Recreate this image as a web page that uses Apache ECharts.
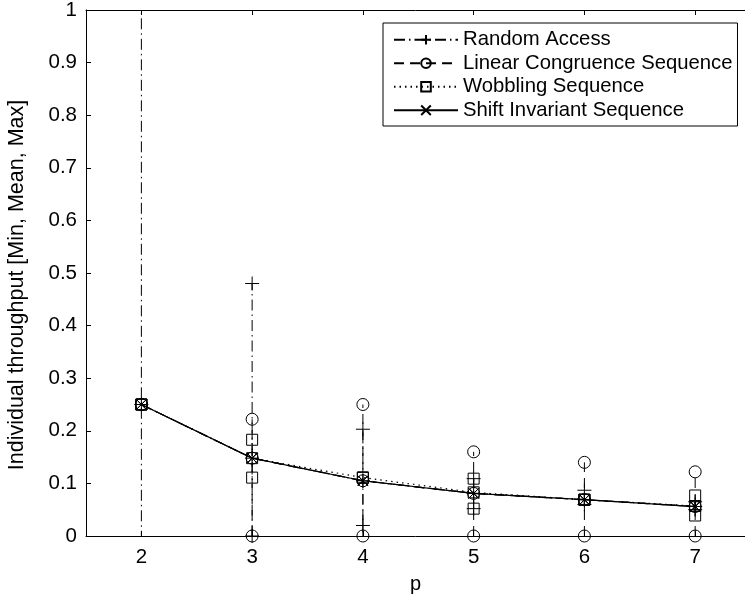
<!DOCTYPE html>
<html>
<head>
<meta charset="utf-8">
<script src="https://cdn.jsdelivr.net/npm/echarts@6/dist/echarts.min.js"></script>
<style>
  html, body { margin: 0; padding: 0; background: #fff; }
  #chart { width: 745px; height: 601px; }
</style>
</head>
<body>
<div id="chart"></div>
<script>
// p values on the x axis
const pValues = [2, 3, 4, 5, 6, 7];
const xTicks = [2, 3, 4, 5, 6, 7];

// Random Access (at p=2 the bar runs past both ends of the axis)
const randomMin = [-0.05, 0, 0.02, 0.052, 0.06, 0.05];
const randomMean = [0.25, 0.148, 0.105, 0.081, 0.069, 0.056];
const randomMax = [1.05, 0.48, 0.203, 0.109, 0.087, 0.065];

// Linear Congruence Sequence
const lcsMin = [0.25, 0, 0, 0, 0, 0];
const lcsMean = [0.25, 0.148, 0.105, 0.081, 0.069, 0.056];
const lcsMax = [0.25, 0.222, 0.25, 0.16, 0.14, 0.122];

// Wobbling Sequence
const wobMin = [0.25, 0.111, 0.111, 0.052, 0.069, 0.039];
const wobMean = [0.25, 0.148, 0.111, 0.083, 0.069, 0.057];
const wobMax = [0.25, 0.183, 0.111, 0.109, 0.069, 0.077];

// Shift Invariant Sequence
const sisMin = [0.25, 0.148, 0.105, 0.081, 0.069, 0.056];
const sisMean = [0.25, 0.148, 0.105, 0.081, 0.069, 0.056];
const sisMax = [0.25, 0.148, 0.105, 0.081, 0.069, 0.056];

const FONT = 'Liberation Sans, Arial, sans-serif';
const PLUS = 'path://M0,5L10,5M5,0L5,10';
const CROSS = 'path://M0,0L10,10M10,0L0,10';

const hollow = { color: 'transparent', borderColor: '#000', borderWidth: 1, opacity: 1 };

function errorBars(dash) {
  return function (params, api) {
    const x = api.value(0);
    const lo = api.coord([x, api.value(1)]);
    const hi = api.coord([x, api.value(2)]);
    return {
      type: 'line',
      shape: { x1: lo[0], y1: lo[1], x2: hi[0], y2: hi[1] },
      style: { stroke: '#000', lineWidth: 1, lineDash: dash, fill: null }
    };
  };
}

function makeSeries(name, mins, means, maxs, symbol, size, dash) {
  const lineType = dash ? dash : 'solid';
  return [
    {
      name: name + ' bars',
      type: 'custom',
      renderItem: errorBars(dash),
      data: pValues.map((p, i) => [p, mins[i], maxs[i]]),
      encode: { x: 0, y: [1, 2] },
      clip: true,
      silent: true,
      z: 2
    },
    {
      name: name + ' ends',
      type: 'scatter',
      symbol: symbol,
      symbolSize: size,
      itemStyle: hollow,
      data: pValues.flatMap((p, i) => [[p, mins[i]], [p, maxs[i]]]),
      clip: true,
      silent: true,
      z: 3
    },
    {
      name: name,
      type: 'line',
      symbol: symbol,
      symbolSize: size,
      showSymbol: true,
      itemStyle: hollow,
      lineStyle: { color: '#000', width: 1.2, type: lineType },
      data: pValues.map((p, i) => [p, means[i]]),
      clip: true,
      z: 4
    }
  ];
}

const chart = echarts.init(document.getElementById('chart'));

const option = {
  animation: false,
  backgroundColor: '#fff',
  grid: { left: 86, right: 0, top: 10, bottom: 65, containLabel: false, outerBoundsMode: 'none' },
  legend: {
    data: ['Random Access', 'Linear Congruence Sequence', 'Wobbling Sequence', 'Shift Invariant Sequence'],
    orient: 'vertical',
    left: 383,
    top: 23,
    padding: [5, 5, 4, 10],
    itemWidth: 64,
    itemHeight: 12,
    itemGap: 0,
    borderColor: '#000',
    borderWidth: 1,
    backgroundColor: '#fff',
    textStyle: { fontFamily: FONT, fontSize: 20.3, color: '#000', lineHeight: 23.5 }
  },
  xAxis: [
    {
      type: 'value',
      min: 1.5,
      max: 7.45,
      name: 'p',
      nameLocation: 'middle',
      nameGap: 38,
      nameTextStyle: { fontFamily: FONT, fontSize: 20, color: '#000' },
      axisLine: { onZero: false, lineStyle: { color: '#000', width: 1 } },
      axisTick: { inside: true, length: 5, lineStyle: { color: '#000' }, customValues: xTicks },
      axisLabel: { fontFamily: FONT, fontSize: 20.5, color: '#000', margin: 11, customValues: xTicks },
      splitLine: { show: false }
    },
    {
      type: 'value',
      position: 'top',
      min: 1.5,
      max: 7.45,
      axisLine: { onZero: false, lineStyle: { color: '#000', width: 1 } },
      axisTick: { inside: true, length: 5, lineStyle: { color: '#000' }, customValues: xTicks },
      axisLabel: { show: false },
      splitLine: { show: false }
    }
  ],
  yAxis: {
    type: 'value',
    min: 0,
    max: 1,
    interval: 0.1,
    name: 'Individual throughput [Min, Mean, Max]',
    nameLocation: 'middle',
    nameGap: 58,
    nameTextStyle: { fontFamily: FONT, fontSize: 21.5, color: '#000', padding: [0, 24, 0, 0] },
    axisLine: { show: true, onZero: false, lineStyle: { color: '#000', width: 1 } },
    axisTick: { inside: true, length: 5, lineStyle: { color: '#000' } },
    axisLabel: { fontFamily: FONT, fontSize: 20.5, color: '#000', margin: 9 },
    splitLine: { show: false }
  },
  series: [
    ...makeSeries('Random Access', randomMin, randomMean, randomMax, PLUS, 14, [11, 4, 1.5, 4]),
    ...makeSeries('Linear Congruence Sequence', lcsMin, lcsMean, lcsMax, 'circle', 12, [10, 6]),
    ...makeSeries('Wobbling Sequence', wobMin, wobMean, wobMax, 'rect', 11, [1.5, 4]),
    ...makeSeries('Shift Invariant Sequence', sisMin, sisMean, sisMax, CROSS, 10, null)
  ]
};

chart.setOption(option);
</script>
</body>
</html>
